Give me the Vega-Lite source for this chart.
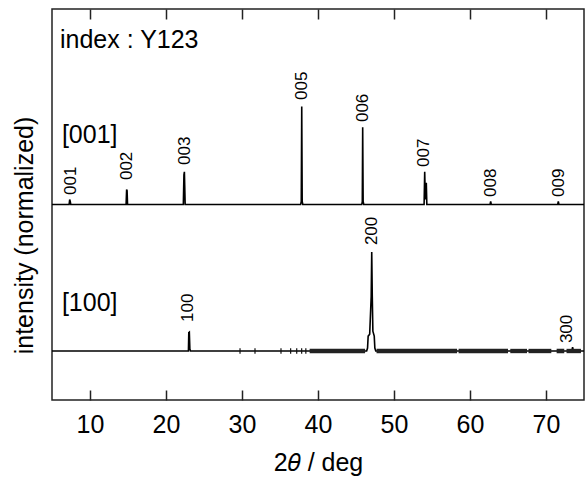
{
  "$schema": "https://vega.github.io/schema/vega-lite/v6.json",
  "width": 532,
  "height": 391,
  "autosize": "none",
  "padding": {"left": 52, "top": 9, "right": 1, "bottom": 77},
  "config": {
    "view": {"stroke": "#222", "strokeWidth": 1.5},
    "font": "Liberation Sans",
    "axis": {"grid": false, "domain": false, "labelColor": "black", "titleColor": "black", "titleFontWeight": "normal", "tickColor": "#222", "tickWidth": 1.5}
  },
  "datasets": {
    "top": [
      {"x": 5, "y": 0},
      {"x": 7.25, "y": 0}, {"x": 7.33, "y": 0.05}, {"x": 7.4, "y": 0.03}, {"x": 7.47, "y": 0},
      {"x": 14.75, "y": 0}, {"x": 14.82, "y": 0.15}, {"x": 14.88, "y": 0.14}, {"x": 14.94, "y": 0},
      {"x": 22.28, "y": 0}, {"x": 22.36, "y": 0.3}, {"x": 22.42, "y": 0.33}, {"x": 22.46, "y": 0.2}, {"x": 22.52, "y": 0},
      {"x": 37.72, "y": 0}, {"x": 37.8, "y": 0.03}, {"x": 37.86, "y": 0.99}, {"x": 37.92, "y": 0.03}, {"x": 38.0, "y": 0},
      {"x": 45.76, "y": 0}, {"x": 45.83, "y": 0.03}, {"x": 45.88, "y": 0.78}, {"x": 45.94, "y": 0.03}, {"x": 46.02, "y": 0},
      {"x": 53.96, "y": 0}, {"x": 54.04, "y": 0.33}, {"x": 54.12, "y": 0.05}, {"x": 54.25, "y": 0.22}, {"x": 54.32, "y": 0},
      {"x": 62.64, "y": 0}, {"x": 62.72, "y": 0.03}, {"x": 62.8, "y": 0},
      {"x": 71.54, "y": 0}, {"x": 71.62, "y": 0.03}, {"x": 71.7, "y": 0},
      {"x": 75, "y": 0}
    ],
    "bottom": [
      {"x": 5, "y": 0},
      {"x": 22.95, "y": 0}, {"x": 23.0, "y": 0.185}, {"x": 23.07, "y": 0.19}, {"x": 23.14, "y": 0.02}, {"x": 23.22, "y": 0},
      {"x": 46.4, "y": 0}, {"x": 46.52, "y": 0.03}, {"x": 46.6, "y": 0.15}, {"x": 46.8, "y": 0.17}, {"x": 47.0, "y": 0.55}, {"x": 47.07, "y": 1.0}, {"x": 47.14, "y": 0.56}, {"x": 47.22, "y": 0.2}, {"x": 47.4, "y": 0.15}, {"x": 47.48, "y": 0.03}, {"x": 47.6, "y": 0},
      {"x": 73.4, "y": 0}, {"x": 73.5, "y": 0.04}, {"x": 73.6, "y": 0},
      {"x": 75, "y": 0}
    ],
    "band": [
      {"x1": 38.9, "x2": 46.2}, {"x1": 47.7, "x2": 58.3}, {"x1": 58.5, "x2": 65.0}, {"x1": 65.3, "x2": 67.5},
      {"x1": 67.7, "x2": 70.7}, {"x1": 71.4, "x2": 72.4}, {"x1": 72.7, "x2": 74.6}
    ],
    "marks": [
      {"x": 29.74}, {"x": 31.71}, {"x": 35.13}, {"x": 36.4}, {"x": 37.2}, {"x": 37.85}, {"x": 38.4}
    ],
    "toplabels": [
      {"x": 7.5, "y": 0.096, "label": "001"},
      {"x": 14.93, "y": 0.247, "label": "002"},
      {"x": 22.45, "y": 0.4, "label": "003"},
      {"x": 37.9, "y": 1.056, "label": "005"},
      {"x": 45.92, "y": 0.833, "label": "006"},
      {"x": 53.95, "y": 0.379, "label": "007"},
      {"x": 62.76, "y": 0.076, "label": "008"},
      {"x": 71.7, "y": 0.076, "label": "009"}
    ],
    "bottomlabels": [
      {"x": 22.93, "y": 0.293, "label": "100"},
      {"x": 47.07, "y": 1.07, "label": "200"},
      {"x": 72.72, "y": 0.08, "label": "300"}
    ],
    "topnotes": [
      {"x": 6.05, "y": 1.58, "text": "index : Y123"},
      {"x": 6.3, "y": 0.62, "text": "[001]"}
    ],
    "bottomnotes": [
      {"x": 6.3, "y": 0.4, "text": "[100]"}
    ]
  },
  "layer": [
    {
      "data": {"name": "top"},
      "mark": {"type": "line", "color": "black", "strokeWidth": 1.6},
      "encoding": {
        "x": {"field": "x", "type": "quantitative", "scale": {"domain": [5, 75], "nice": false},
          "axis": {"orient": "bottom", "values": [10, 20, 30, 40, 50, 60, 70], "tickSize": -10, "labelFontSize": 25, "labelPadding": 22, "title": "2𝜃 / deg", "titleFontSize": 25, "titleY": 70, "titleBaseline": "alphabetic"}},
        "y": {"field": "y", "type": "quantitative", "scale": {"domain": [-1.975, 1.975], "nice": false},
          "axis": {"title": "intensity (normalized)", "ticks": false, "labels": false, "titleFontSize": 25, "titleX": -20, "titleY": 226, "titleBaseline": "alphabetic"}}
      }
    },
    {
      "data": {"name": "bottom"},
      "mark": {"type": "line", "color": "black", "strokeWidth": 1.6},
      "encoding": {
        "x": {"field": "x", "type": "quantitative", "scale": {"domain": [5, 75], "nice": false},
          "axis": {"orient": "top", "values": [10, 20, 30, 40, 50, 60, 70], "tickSize": -10, "labels": false, "title": null}},
        "y": {"field": "y", "type": "quantitative", "scale": {"domain": [-0.495, 3.455], "nice": false}, "axis": null}
      }
    },
    {
      "data": {"name": "band"},
      "mark": {"type": "rect", "color": "#222"},
      "encoding": {
        "x": {"field": "x1", "type": "quantitative", "scale": {"domain": [5, 75], "nice": false}, "axis": null},
        "x2": {"field": "x2"},
        "y": {"datum": -0.022, "type": "quantitative", "scale": {"domain": [-0.495, 3.455], "nice": false}, "axis": null},
        "y2": {"datum": 0.022}
      }
    },
    {
      "data": {"name": "marks"},
      "mark": {"type": "rule", "color": "#111", "strokeWidth": 1.2},
      "encoding": {
        "x": {"field": "x", "type": "quantitative", "scale": {"domain": [5, 75], "nice": false}, "axis": null},
        "y": {"datum": -0.028, "type": "quantitative", "scale": {"domain": [-0.495, 3.455], "nice": false}, "axis": null},
        "y2": {"datum": 0.028}
      }
    },
    {
      "data": {"name": "toplabels"},
      "mark": {"type": "text", "angle": 270, "align": "left", "baseline": "middle", "fontSize": 17, "color": "black"},
      "encoding": {
        "x": {"field": "x", "type": "quantitative", "scale": {"domain": [5, 75], "nice": false}, "axis": null},
        "y": {"field": "y", "type": "quantitative", "scale": {"domain": [-1.975, 1.975], "nice": false}, "axis": null},
        "text": {"field": "label"}
      }
    },
    {
      "data": {"name": "bottomlabels"},
      "mark": {"type": "text", "angle": 270, "align": "left", "baseline": "middle", "fontSize": 17, "color": "black"},
      "encoding": {
        "x": {"field": "x", "type": "quantitative", "scale": {"domain": [5, 75], "nice": false}, "axis": null},
        "y": {"field": "y", "type": "quantitative", "scale": {"domain": [-0.495, 3.455], "nice": false}, "axis": null},
        "text": {"field": "label"}
      }
    },
    {
      "data": {"name": "topnotes"},
      "mark": {"type": "text", "align": "left", "baseline": "alphabetic", "fontSize": 25, "color": "black"},
      "encoding": {
        "x": {"field": "x", "type": "quantitative", "scale": {"domain": [5, 75], "nice": false}, "axis": null},
        "y": {"field": "y", "type": "quantitative", "scale": {"domain": [-1.975, 1.975], "nice": false}, "axis": null},
        "text": {"field": "text"}
      }
    },
    {
      "data": {"name": "bottomnotes"},
      "mark": {"type": "text", "align": "left", "baseline": "alphabetic", "fontSize": 25, "color": "black"},
      "encoding": {
        "x": {"field": "x", "type": "quantitative", "scale": {"domain": [5, 75], "nice": false}, "axis": null},
        "y": {"field": "y", "type": "quantitative", "scale": {"domain": [-0.495, 3.455], "nice": false}, "axis": null},
        "text": {"field": "text"}
      }
    }
  ],
  "resolve": {"scale": {"y": "independent"}, "axis": {"x": "independent", "y": "independent"}}
}
